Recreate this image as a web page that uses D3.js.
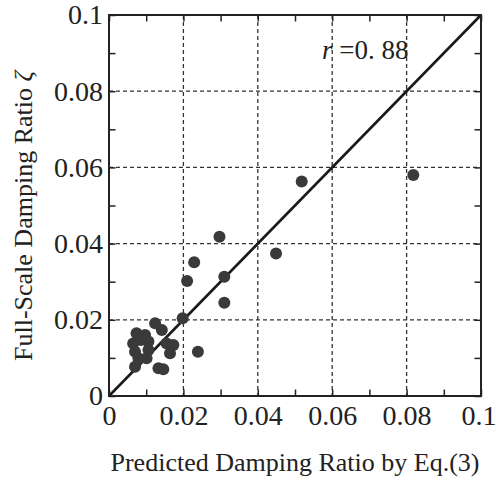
<!DOCTYPE html>
<html>
<head>
<meta charset="utf-8">
<script src="https://cdn.jsdelivr.net/npm/d3@7"></script>
<style>
  html, body { margin: 0; padding: 0; background: #fff; }
  svg { display: block; }
</style>
</head>
<body>
<svg id="chart" width="496" height="481"></svg>
<script>
// Predicted damping ratio (Eq. 3) vs. full-scale measured damping ratio
const predicted = [0.0818, 0.0518, 0.0297, 0.0449, 0.0229, 0.0210, 0.0310, 0.0310, 0.0198, 0.0239,
                   0.0124, 0.0142, 0.0074, 0.0097, 0.0086, 0.0065, 0.0106, 0.0155, 0.0173, 0.0164,
                   0.0070, 0.0106, 0.0079, 0.0101, 0.0070, 0.0133, 0.0146];
const measured  = [0.0580, 0.0563, 0.0418, 0.0374, 0.0351, 0.0302, 0.0313, 0.0245, 0.0204, 0.0116,
                   0.0191, 0.0173, 0.0165, 0.0160, 0.0147, 0.0138, 0.0143, 0.0138, 0.0134, 0.0112,
                   0.0116, 0.0121, 0.0099, 0.0099, 0.0077, 0.0073, 0.0070];

const majorTicks = [0, 0.02, 0.04, 0.06, 0.08, 0.1];
const tickLabels = ["0", "0.02", "0.04", "0.06", "0.08", "0.1"];
const minorTicks = [0, 0.01, 0.02, 0.03, 0.04, 0.05, 0.06, 0.07, 0.08, 0.09, 0.1];
const gridValues = [0.02, 0.04, 0.06, 0.08];
const lineOfEquality = [0, 0.1];
const correlationText = "0. 88";

const serif = "'Liberation Serif', 'Times New Roman', 'DejaVu Serif', serif";
const svg = d3.select("#chart");
const plotLeft = 109, plotRight = 481, plotTop = 15, plotBottom = 396;

const x = d3.scaleLinear().domain([0, 0.1]).range([plotLeft, plotRight]);
const y = d3.scaleLinear().domain([0, 0.1]).range([plotBottom, plotTop]);

const ink = "#222";

// dashed grid
const grid = svg.append("g").attr("stroke", "#333").attr("stroke-width", 1.3)
  .attr("stroke-dasharray", "4,3");
grid.selectAll("line.v").data(gridValues).join("line").attr("class", "v")
  .attr("x1", d => x(d)).attr("x2", d => x(d)).attr("y1", plotTop).attr("y2", plotBottom);
grid.selectAll("line.h").data(gridValues).join("line").attr("class", "h")
  .attr("x1", plotLeft).attr("x2", plotRight).attr("y1", d => y(d)).attr("y2", d => y(d));

// inward tick marks on all four sides
const tickLen = 6.5;
function styleTicks(g) {
  g.select(".domain").remove();
  g.selectAll(".tick line").attr("stroke", ink).attr("stroke-width", 1.5);
}
svg.append("g").attr("transform", `translate(0,${plotBottom})`)
  .call(d3.axisBottom(x).tickValues(minorTicks).tickSize(-tickLen).tickFormat("")).call(styleTicks);
svg.append("g").attr("transform", `translate(0,${plotTop})`)
  .call(d3.axisTop(x).tickValues(minorTicks).tickSize(-tickLen).tickFormat("")).call(styleTicks);
svg.append("g").attr("transform", `translate(${plotLeft},0)`)
  .call(d3.axisLeft(y).tickValues(minorTicks).tickSize(-tickLen).tickFormat("")).call(styleTicks);
svg.append("g").attr("transform", `translate(${plotRight},0)`)
  .call(d3.axisRight(y).tickValues(minorTicks).tickSize(-tickLen).tickFormat("")).call(styleTicks);

// tick labels
function styleLabels(g) {
  g.attr("font-family", serif).attr("font-size", 28);
  g.select(".domain").remove();
  g.selectAll(".tick line").remove();
  g.selectAll(".tick text").attr("fill", ink);
}
const xLabels = svg.append("g").attr("transform", `translate(0,${plotBottom})`)
  .call(d3.axisBottom(x).tickValues(majorTicks).tickSize(0).tickPadding(9)
    .tickFormat((d, i) => tickLabels[i])).call(styleLabels);
// keep the last x label inside the page
xLabels.selectAll(".tick text").filter((d, i) => i === majorTicks.length - 1)
  .attr("text-anchor", "end").attr("x", 15);
svg.append("g").attr("transform", `translate(${plotLeft},0)`)
  .call(d3.axisLeft(y).tickValues(majorTicks).tickSize(0).tickPadding(6)
    .tickFormat((d, i) => tickLabels[i])).call(styleLabels);

// 1:1 line
svg.append("line")
  .attr("x1", x(lineOfEquality[0])).attr("y1", y(lineOfEquality[0]))
  .attr("x2", x(lineOfEquality[1])).attr("y2", y(lineOfEquality[1]))
  .attr("stroke", "#1a1a1a").attr("stroke-width", 2.6);

// frame
svg.append("rect").attr("x", plotLeft).attr("y", plotTop)
  .attr("width", plotRight - plotLeft).attr("height", plotBottom - plotTop)
  .attr("fill", "none").attr("stroke", ink).attr("stroke-width", 2);

// data points
svg.append("g").selectAll("circle").data(predicted).join("circle")
  .attr("cx", d => x(d)).attr("cy", (d, i) => y(measured[i]))
  .attr("r", 6).attr("fill", "#3a3a3a");

// correlation coefficient
const rt = svg.append("text").attr("x", 322).attr("y", 58.5)
  .attr("font-family", serif).attr("font-size", 27).attr("fill", ink);
rt.append("tspan").attr("font-style", "italic").text("r");
rt.append("tspan").text(" =" + correlationText);

// axis titles
svg.append("text").attr("x", (plotLeft + plotRight) / 2).attr("y", 471)
  .attr("text-anchor", "middle").attr("font-family", serif).attr("font-size", 26).attr("fill", ink)
  .text("Predicted Damping Ratio by Eq.(3)");
const yTitle = svg.append("text").attr("transform", "translate(32,216) rotate(-90)")
  .attr("text-anchor", "middle").attr("font-family", serif).attr("font-size", 26).attr("fill", ink);
yTitle.append("tspan").text("Full-Scale Damping Ratio ");
yTitle.append("tspan").attr("font-style", "italic").text("ζ");
</script>
</body>
</html>
